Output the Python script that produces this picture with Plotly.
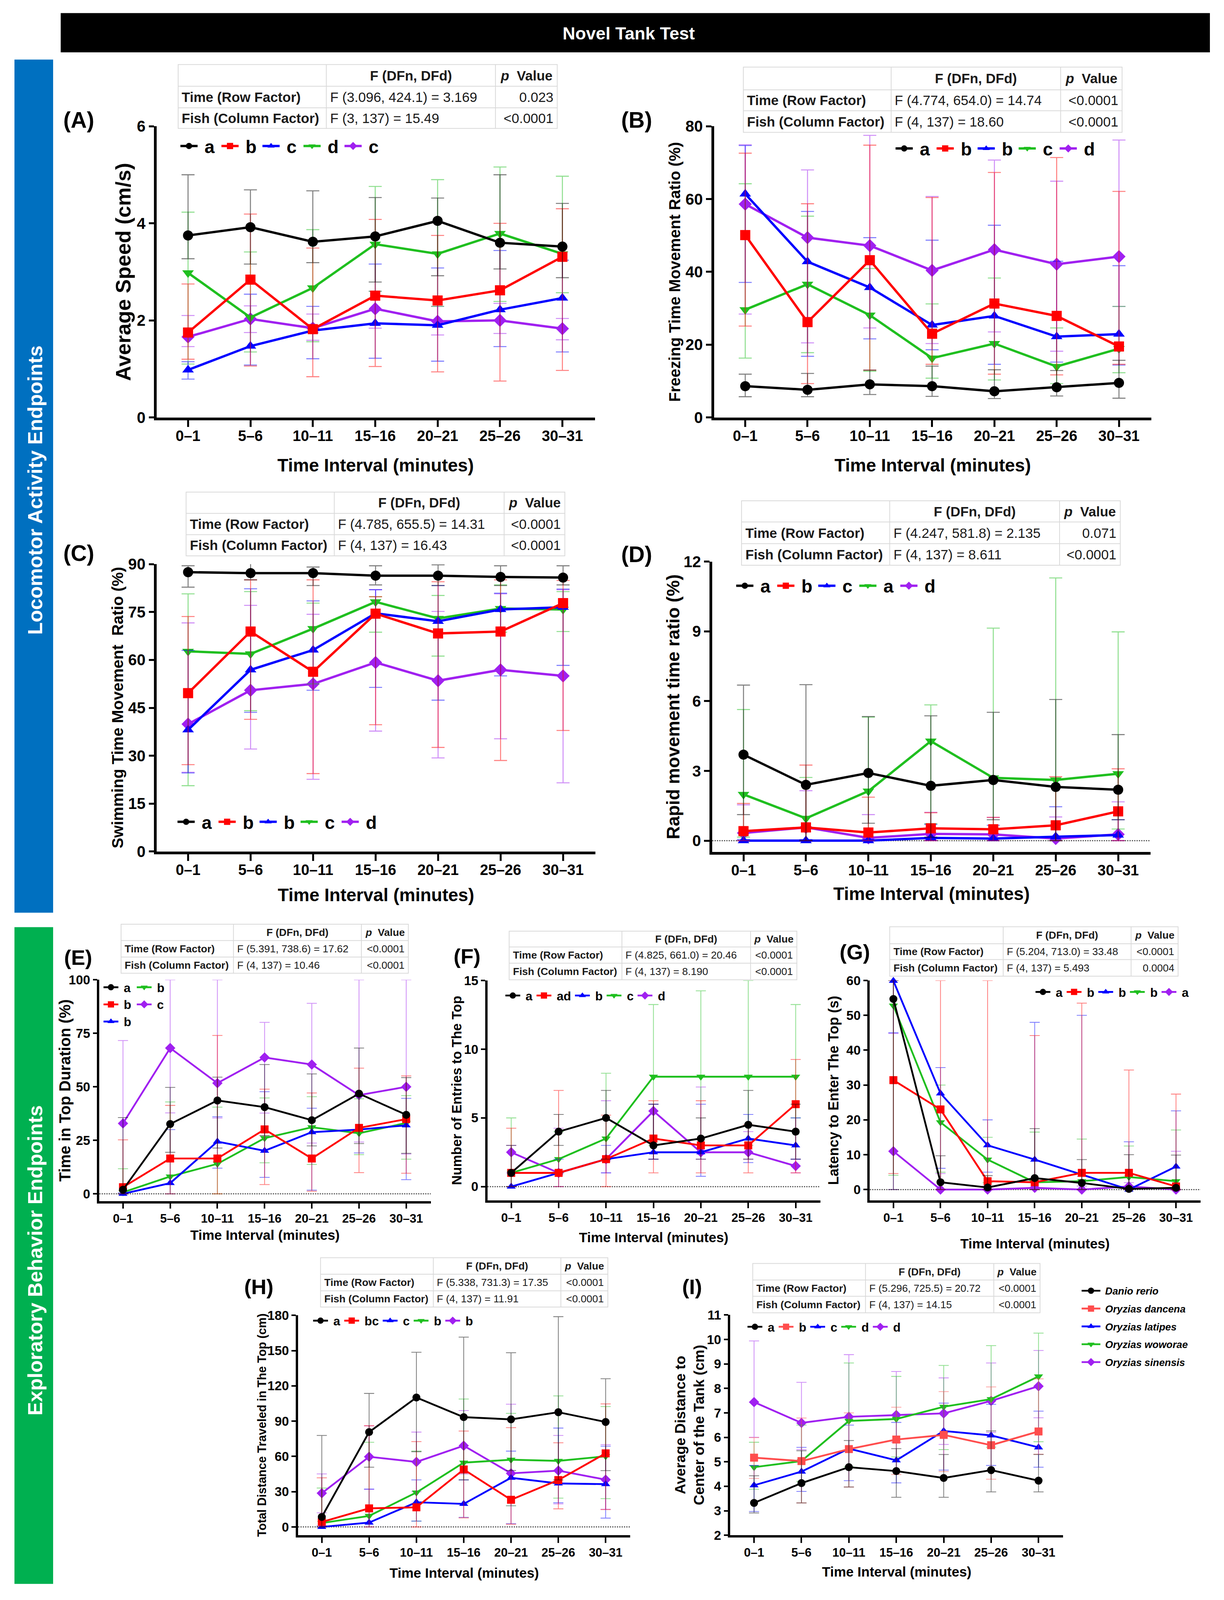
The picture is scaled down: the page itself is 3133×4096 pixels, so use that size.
import plotly.graph_objects as go

# ------------------------------------------------------------------ data
INTERVALS = ["0–1", "5–6", "10–11", "15–16", "20–21", "25–26", "30–31"]
SPECIES = ["Danio rerio", "Oryzias dancena", "Oryzias latipes", "Oryzias woworae", "Oryzias sinensis"]
# row order in every panel: Danio rerio, O. dancena, O. latipes, O. woworae, O. sinensis

# (A) Average Speed (cm/s)
A_MEAN = [[3.75, 3.92, 3.62, 3.73, 4.05, 3.60, 3.52],
          [1.75, 2.84, 1.82, 2.51, 2.41, 2.62, 3.31],
          [0.98, 1.47, 1.79, 1.94, 1.90, 2.22, 2.46],
          [2.98, 2.06, 2.67, 3.57, 3.37, 3.79, 3.37],
          [1.66, 2.03, 1.84, 2.24, 1.98, 2.00, 1.83]]
A_HI = [[5.00, 4.69, 4.67, 4.53, 4.52, 5.00, 4.41],
        [2.75, 4.19, 3.49, 4.08, 3.75, 4.00, 4.30],
        [1.15, 2.54, 2.29, 3.16, 3.08, 3.44, 3.24],
        [4.23, 3.41, 3.87, 4.76, 4.90, 5.16, 4.97],
        [2.10, 2.30, 2.13, 2.60, 2.29, 2.35, 2.04]]
A_LO = [[3.27, 3.16, 3.19, 2.79, 2.92, 3.06, 2.88],
        [1.20, 1.06, 0.84, 1.05, 0.94, 0.75, 0.97],
        [0.79, 1.08, 1.21, 1.22, 1.16, 1.46, 1.35],
        [1.10, 1.35, 1.56, 2.60, 2.29, 2.39, 2.57],
        [1.46, 1.75, 1.59, 1.84, 1.70, 1.73, 1.60]]
A_LETTERS = ["a", "b", "c", "d", "c"]
A_STATS = ["F (3.096, 424.1) = 3.169", "0.023", "F (3, 137) = 15.49", "<0.0001"]

# (B) Freezing Time Movement Ratio (%)
B_MEAN = [[8.6, 7.6, 9.1, 8.6, 7.2, 8.3, 9.5],
          [50.1, 26.2, 43.2, 23.0, 31.3, 27.9, 19.5],
          [61.4, 42.8, 35.7, 25.4, 27.9, 22.2, 22.9],
          [29.6, 36.6, 28.1, 16.3, 20.3, 14.0, 18.9],
          [58.6, 49.4, 47.2, 40.4, 46.1, 42.1, 44.2]]
B_HI = [[11.9, 12.1, 13.0, 14.1, 13.1, 12.9, 15.7],
        [72.6, 58.7, 74.8, 60.4, 67.3, 71.4, 62.1],
        [74.7, 56.6, 49.4, 48.7, 52.8, 42.9, 41.7],
        [64.2, 55.3, 40.9, 31.2, 38.3, 24.6, 30.5],
        [74.9, 68.0, 77.5, 60.7, 70.7, 64.9, 76.2]]
B_LO = [[5.7, 5.7, 6.3, 5.8, 5.2, 5.9, 5.3],
        [25.1, 9.3, 13.0, 14.6, 11.9, 11.7, 14.6],
        [37.1, 16.8, 21.6, 18.6, 14.6, 15.2, 14.4],
        [16.3, 17.8, 12.7, 10.8, 10.3, 9.3, 12.3],
        [28.4, 20.5, 24.6, 20.3, 23.5, 18.2, 30.5]]
B_LETTERS = ["a", "b", "b", "c", "d"]
B_STATS = ["F (4.774, 654.0) = 14.74", "<0.0001", "F (4, 137) = 18.60", "<0.0001"]

# (C) Swimming Time Movement Ratio (%)
C_MEAN = [[87.5, 87.2, 87.2, 86.4, 86.4, 86.0, 85.8],
          [49.6, 68.9, 56.3, 74.5, 68.3, 68.9, 77.8],
          [38.1, 56.9, 63.1, 74.6, 72.1, 75.8, 76.5],
          [62.7, 61.9, 69.8, 78.2, 73.0, 76.1, 75.8],
          [39.9, 50.5, 52.5, 59.2, 53.5, 56.9, 55.0]]
C_HI = [[89.5, 90.2, 89.1, 89.5, 89.8, 89.5, 89.5],
        [73.6, 85.1, 85.1, 79.8, 84.5, 85.1, 84.9],
        [63.0, 82.3, 78.5, 82.0, 83.3, 80.9, 82.2],
        [80.7, 81.4, 77.8, 79.8, 80.2, 83.5, 81.4],
        [71.6, 77.1, 74.3, 82.0, 75.2, 80.7, 82.0]]
C_LO = [[82.8, 85.1, 83.3, 83.5, 83.3, 83.3, 83.5],
        [27.2, 41.4, 24.4, 39.7, 32.6, 28.5, 37.9],
        [24.6, 43.6, 50.5, 51.4, 47.4, 55.0, 58.3],
        [20.6, 44.1, 52.5, 68.7, 61.2, 68.7, 68.9],
        [24.8, 32.1, 22.6, 37.7, 29.3, 35.3, 21.5]]
C_LETTERS = ["a", "b", "b", "c", "d"]
C_STATS = ["F (4.785, 655.5) = 14.31", "<0.0001", "F (4, 137) = 16.43", "<0.0001"]

# (D) Rapid movement time ratio (%)
D_MEAN = [[3.70, 2.40, 2.91, 2.36, 2.61, 2.31, 2.19],
          [0.41, 0.57, 0.35, 0.53, 0.49, 0.66, 1.26],
          [0.00, 0.00, 0.00, 0.12, 0.09, 0.17, 0.24],
          [1.99, 0.96, 2.13, 4.28, 2.70, 2.61, 2.88],
          [0.33, 0.57, 0.12, 0.29, 0.27, 0.09, 0.27]]
D_HI = [[6.69, 6.71, 5.34, 5.37, 5.52, 6.07, 4.56],
        [1.60, 3.25, 1.87, 1.20, 1.00, 2.75, 3.09],
        [0.05, 0.05, 0.05, 0.70, 0.66, 1.46, 0.90],
        [5.64, 2.72, 5.31, 5.84, 9.14, 11.30, 8.98],
        [1.54, 2.15, 1.12, 1.22, 1.00, 1.02, 1.67]]
D_LO = [[1.12, 0.00, 0.75, 0.15, 0.90, 0.00, 0.90],
        [0.00, 0.00, 0.00, 0.00, 0.00, 0.00, 0.00],
        [0.00, 0.00, 0.00, 0.00, 0.00, 0.00, 0.00],
        [0.15, 0.00, 0.00, 0.73, 0.00, 0.00, 0.50],
        [0.00, 0.00, 0.00, 0.00, 0.00, 0.00, 0.00]]
D_LETTERS = ["a", "b", "c", "a", "d"]
D_STATS = ["F (4.247, 581.8) = 2.135", "0.071", "F (4, 137) = 8.611", "<0.0001"]

# (E) Time in Top Duration (%)
E_MEAN = [[1.9, 32.6, 43.6, 40.5, 34.4, 46.8, 36.9],
          [3.1, 16.5, 16.5, 30.1, 16.5, 30.8, 34.9],
          [0.0, 5.0, 24.4, 20.1, 28.8, 30.0, 32.0],
          [0.7, 8.1, 14.0, 26.0, 31.1, 28.3, 33.1],
          [32.9, 68.1, 51.7, 63.7, 60.4, 46.1, 50.0]]
E_HI = [[35.6, 49.7, 54.5, 60.4, 56.0, 68.1, 54.3],
        [25.2, 41.3, 74.0, 48.9, 47.1, 58.7, 55.1],
        [0.5, 30.0, 36.0, 47.7, 40.0, 45.6, 44.6],
        [11.7, 42.9, 40.5, 44.8, 45.4, 44.4, 45.9],
        [71.6, 100.0, 100.0, 80.1, 89.0, 100.0, 100.0]]
E_LO = [[0.0, 19.4, 21.4, 27.2, 22.4, 23.5, 18.9],
        [0.0, 0.0, 0.0, 4.3, 1.2, 9.9, 9.6],
        [0.0, 0.0, 12.0, 7.7, 1.7, 19.1, 6.6],
        [0.0, 0.0, 0.0, 14.5, 13.7, 18.3, 16.2],
        [0.0, 37.8, 35.4, 37.7, 23.7, 24.2, 18.6]]
E_LETTERS = ["a", "b", "b", "b", "c"]
E_STATS = ["F (5.391, 738.6) = 17.62", "<0.0001", "F (4, 137) = 10.46", "<0.0001"]

# (F) Number of Entries to The Top
F_MEAN = [[1.0, 4.0, 5.0, 3.0, 3.5, 4.5, 4.0],
          [1.0, 1.0, 2.0, 3.5, 3.0, 3.0, 6.0],
          [0.0, 1.0, 2.0, 2.5, 2.5, 3.5, 3.0],
          [1.0, 2.0, 3.5, 8.0, 8.0, 8.0, 8.0],
          [2.5, 1.0, 2.0, 5.5, 2.5, 2.5, 1.5]]
F_HI = [[3.0, 5.25, 7.0, 6.0, 5.0, 7.0, 6.0],
        [4.25, 7.0, 5.2, 6.25, 6.25, 4.5, 9.25],
        [0.0, 2.0, 3.0, 6.0, 6.0, 5.25, 5.0],
        [5.0, 4.0, 8.25, 13.25, 14.25, 15.0, 13.25],
        [3.0, 4.25, 6.25, 6.0, 7.25, 4.0, 2.0]]
F_LO = [[0.0, 3.0, 2.0, 2.0, 2.0, 2.0, 2.0],
        [0.0, 0.0, 0.0, 1.0, 1.0, 1.0, 1.0],
        [0.0, 0.0, 1.0, 2.0, 0.75, 1.75, 2.0],
        [0.0, 1.0, 2.0, 3.0, 3.0, 3.0, 5.0],
        [1.0, 1.0, 1.0, 2.0, 2.0, 2.0, 1.0]]
F_LETTERS = ["a", "ad", "b", "c", "d"]
F_STATS = ["F (4.825, 661.0) = 20.46", "<0.0001", "F (4, 137) = 8.190", "<0.0001"]

# (G) Latency to Enter The Top (s)
G_MEAN = [[54.7, 2.1, 0.6, 3.3, 1.9, 0.2, 0.5],
          [31.4, 23.0, 2.4, 2.1, 4.8, 4.8, 0.9],
          [59.9, 27.6, 12.7, 8.6, 4.3, 0.0, 6.6],
          [52.8, 19.3, 8.6, 2.1, 2.4, 3.6, 2.4],
          [11.0, 0.0, 0.0, 0.5, 0.0, 0.9, 0.0]]
G_HI = [[60.0, 9.7, 4.0, 17.5, 8.6, 10.0, 9.9],
        [60.0, 60.0, 60.0, 44.2, 53.5, 34.3, 27.4],
        [60.0, 35.0, 20.0, 48.0, 50.0, 13.7, 22.6],
        [60.0, 30.0, 15.0, 16.5, 14.5, 12.5, 17.1],
        [44.8, 4.6, 1.0, 2.0, 1.0, 2.0, 11.0]]
G_LO = [[0.0, 0.0, 0.0, 0.0, 0.0, 0.0, 0.0],
        [4.6, 0.0, 0.0, 0.0, 0.0, 0.0, 0.0],
        [45.0, 6.1, 5.0, 0.0, 0.0, 0.0, 0.0],
        [4.1, 5.0, 2.0, 0.0, 0.0, 0.0, 0.0],
        [0.0, 0.0, 0.0, 0.0, 0.0, 0.0, 0.0]]
G_LETTERS = ["a", "b", "b", "b", "a"]
G_STATS = ["F (5.204, 713.0) = 33.48", "<0.0001", "F (4, 137) = 5.493", "0.0004"]

# (H) Total Distance Traveled in The Top (cm)
H_MEAN = [[8.5, 80.7, 110.1, 93.4, 91.5, 97.6, 89.3],
          [4.2, 15.8, 16.7, 48.9, 23.1, 39.9, 62.6],
          [0.0, 3.7, 21.0, 19.6, 41.8, 37.0, 36.4],
          [3.3, 9.4, 29.3, 54.7, 57.2, 56.2, 60.1],
          [28.7, 59.7, 55.3, 69.1, 45.6, 47.9, 40.2]]
H_HI = [[77.8, 113.6, 148.6, 161.5, 148.2, 178.9, 126.1],
        [41.8, 86.1, 72.6, 81.6, 84.5, 71.6, 104.7],
        [1.0, 32.2, 40.0, 40.0, 64.5, 84.1, 68.7],
        [33.1, 72.0, 64.5, 108.8, 96.6, 111.5, 102.4],
        [45.1, 86.0, 80.7, 99.0, 104.4, 77.8, 70.0]]
H_LO = [[0.0, 50.8, 64.0, 40.0, 48.0, 40.0, 47.9],
        [0.0, 0.0, 0.0, 7.7, 2.3, 15.4, 14.8],
        [0.0, 0.0, 5.0, 8.1, 2.7, 20.6, 7.5],
        [0.0, 0.0, 5.0, 20.0, 18.0, 24.5, 24.1],
        [12.0, 32.0, 30.0, 45.0, 18.0, 19.6, 15.0]]
H_LETTERS = ["a", "bc", "c", "b", "b"]
H_STATS = ["F (5.338, 731.3) = 17.35", "<0.0001", "F (4, 137) = 11.91", "<0.0001"]

# (I) Average Distance to Center of the Tank (cm)
I_MEAN = [[3.32, 4.13, 4.78, 4.62, 4.34, 4.66, 4.23],
          [5.17, 5.03, 5.52, 5.91, 6.10, 5.68, 6.24],
          [4.04, 4.60, 5.54, 5.06, 6.26, 6.08, 5.59],
          [4.78, 5.03, 6.67, 6.75, 7.25, 7.56, 8.49],
          [7.44, 6.59, 6.84, 6.91, 6.98, 7.49, 8.09]]
I_HI = [[4.43, 5.45, 5.87, 5.54, 5.30, 6.26, 5.30],
        [5.99, 6.79, 7.00, 7.23, 7.87, 8.06, 8.39],
        [4.85, 5.59, 6.50, 6.61, 7.40, 7.35, 7.07],
        [5.80, 6.50, 9.04, 8.49, 8.94, 9.75, 10.26],
        [9.94, 8.25, 9.38, 8.69, 8.43, 9.04, 9.55]]
I_LO = [[2.91, 3.32, 3.97, 3.55, 3.55, 3.77, 3.77],
        [4.32, 3.32, 3.97, 4.48, 4.60, 4.29, 5.31],
        [2.97, 3.79, 4.23, 4.14, 4.66, 4.85, 4.78],
        [3.88, 4.20, 4.80, 5.20, 5.50, 5.60, 5.82],
        [6.00, 5.50, 5.50, 5.80, 5.71, 6.20, 6.80]]
I_LETTERS = ["a", "b", "c", "d", "d"]
I_STATS = ["F (5.296, 725.5) = 20.72", "<0.0001", "F (4, 137) = 14.15", "<0.0001"]

TABLE_HEAD = ["F (DFn, DFd)", "<i>p</i>  Value"]
TABLE_ROWS = ["Time (Row Factor)", "Fish (Column Factor)"]

# ------------------------------------------------------------------ style
COLORS = ["#000000", "#ff0000", "#0000ff", "#1fbf1f", "#a020f0"]
COLORS_I = ["#000000", "#ff4d4d", "#0000ff", "#1fbf1f", "#a020f0"]
SYMBOLS = ["circle", "square", "triangle-up", "triangle-down", "diamond"]

S = 0.925                        # drawing scale relative to the reference
W, H = 3133, 4096
OFFX = 8                         # page offsets of the html page
OFFY = 26.4
PAGE_H = OFFY + H + 8.0

FONT = "Liberation Sans, Arial, sans-serif"
SP = "\u00a0"                    # gap between legend symbol and letter


def X(xr):
    """reference x (px) -> paper fraction"""
    return (xr * S - OFFX) / W


def fig_y(screen_y):
    return screen_y * PAGE_H / H - OFFY


def Y(yr):
    """reference y (px from top) -> paper fraction"""
    return 1 - fig_y(yr * S) / H


def p(v):
    return v * S


def rgba(hexc, a):
    h = hexc.lstrip("#")
    return "rgba(%d,%d,%d,%.2f)" % (int(h[0:2], 16), int(h[2:4], 16), int(h[4:6], 16), a)


PANELS = [
    dict(key="A", mean=A_MEAN, hi=A_HI, lo=A_LO, letters=A_LETTERS, stats=A_STATS,
         x=(434, 1646), y=(346, 1154), yr=[0, 6], tv=[0, 2, 4, 6],
         ytitle="Average Speed (cm/s)", ytfs=58, ytx=341, xty=1286, lab=(173, 329),
         tab=(493, 175, 903, 1371, 1542, 235, 295, 352), leg=(523, 399), big=True, zero=False),
    dict(key="B", mean=B_MEAN, hi=B_HI, lo=B_LO, letters=B_LETTERS, stats=B_STATS,
         x=(1976, 3186), y=(346, 1154), yr=[0, 80], tv=[0, 20, 40, 60, 80],
         ytitle="Freezing Time Movement Ratio (%)", ytfs=43.5, ytx=1868, xty=1286, lab=(1717, 329),
         tab=(2057, 182, 2466, 2935, 3105, 245, 303, 363), leg=(2502, 406), big=True, zero=False),
    dict(key="C", mean=C_MEAN, hi=C_HI, lo=C_LO, letters=C_LETTERS, stats=C_STATS,
         x=(434, 1648), y=(1561, 2358), yr=[0, 90], tv=[0, 15, 30, 45, 60, 75, 90],
         ytitle="Swimming Time Movement\u00a0 Ratio (%)", ytfs=44, ytx=325, xty=2479, lab=(173, 1530),
         tab=(515, 1361, 925, 1395, 1563, 1420, 1479, 1538), leg=(515, 2274), big=True, zero=False),
    dict(key="D", mean=D_MEAN, hi=D_HI, lo=D_LO, letters=D_LETTERS, stats=D_STATS,
         x=(1971, 3184), y=(1554, 2359), yr=[-0.48, 12], tv=[0, 3, 6, 9, 12],
         ytitle="Rapid movement time ratio (%)", ytfs=50, ytx=1863, xty=2475, lab=(1717, 1534),
         tab=(2052, 1385, 2462, 2932, 3100, 1444, 1504, 1564), leg=(2061, 1619), big=True, zero=True),
    dict(key="E", mean=E_MEAN, hi=E_HI, lo=E_LO, letters=E_LETTERS, stats=E_STATS,
         x=(275, 1192), y=(2714, 3328), yr=[-3.4, 100], tv=[0, 25, 50, 75, 100],
         ytitle="Time in Top Duration (%)", ytfs=43, ytx=179, xty=3422, lab=(175, 2652),
         tab=(335, 2560, 646, 1000, 1130, 2605, 2651, 2696), leg=(307, 2733), big=False, zero=True),
    dict(key="F", mean=F_MEAN, hi=F_HI, lo=F_LO, letters=F_LETTERS, stats=F_STATS,
         x=(1349, 2270), y=(2716, 3326), yr=[-1.0, 15], tv=[0, 5, 10, 15],
         ytitle="Number of Entries to The Top", ytfs=37.5, ytx=1263, xty=3428, lab=(1253, 2649),
         tab=(1409, 2579, 1721, 2077, 2205, 2623, 2668, 2714), leg=(1419, 2756), big=False, zero=True),
    dict(key="G", mean=G_MEAN, hi=G_HI, lo=G_LO, letters=G_LETTERS, stats=G_STATS,
         x=(2407, 3322), y=(2716, 3326), yr=[-3.1, 60], tv=[0, 10, 20, 30, 40, 50, 60],
         ytitle="Latency to Enter The Top (s)", ytfs=39, ytx=2307, xty=3446, lab=(2321, 2637),
         tab=(2462, 2567, 2776, 3130, 3260, 2614, 2658, 2704), leg=(2886, 2746), big=False, zero=True),
    dict(key="H", mean=H_MEAN, hi=H_HI, lo=H_LO, letters=H_LETTERS, stats=H_STATS,
         x=(825, 1744), y=(3645, 4255), yr=[-7.05, 180], tv=[0, 30, 60, 90, 120, 150, 180],
         ytitle="Total Distance Traveled in The Top (cm)", ytfs=33, ytx=725, xty=4359, lab=(674, 3566),
         tab=(887, 3485, 1199, 1552, 1682, 3531, 3577, 3622), leg=(887, 3658), big=False, zero=True),
    dict(key="I", mean=I_MEAN, hi=I_HI, lo=I_LO, letters=I_LETTERS, stats=I_STATS,
         x=(2021, 2942), y=(3644, 4255), yr=[2, 11], tv=[2, 3, 4, 5, 6, 7, 8, 9, 10, 11],
         ytitle="Average Distance to<br>Center of the Tank (cm)", ytfs=40, ytx=1908, xty=4356, lab=(1885, 3566),
         tab=(2083, 3501, 2395, 2750, 2878, 3547, 3592, 3638), leg=(2089, 3675), big=False, zero=False),
]

fig = go.Figure()
shapes = []
ann = []
layout = {}


def text(t, x, y, size, color="black", bold=True, xa="center", angle=0, italic=False):
    f = dict(family=FONT, size=size, color=color)
    if bold:
        f["weight"] = "bold"
    if italic:
        f["style"] = "italic"
    ann.append(dict(text=t, x=X(x), y=Y(y), xref="paper", yref="paper", showarrow=False,
                    xanchor=xa, yanchor="middle", textangle=angle, font=f))


def rect(x0, y0, x1, y1, fill, line=None):
    shapes.append(dict(type="rect", xref="paper", yref="paper", x0=X(x0), x1=X(x1), y0=Y(y1), y1=Y(y0),
                       fillcolor=fill, line=line or dict(width=0), layer="below"))


# -------- header bar and side bars
rect(168, 32, 3348, 141, "black")
text("Novel Tank Test", 1740, 88, 45, color="white")
rect(40, 161, 147, 2528, "#0070c0")
rect(40, 2568, 147, 4390, "#00b050")
text("Locomotor Activity Endpoints", 97, 1355, 52, color="white", angle=-90)
text("Exploratory Behavior Endpoints", 97, 3492, 52, color="white", angle=-90)


def add_table(tab, stats, fs):
    L, T, c1, c2, R, r1, r2, B = tab
    lc = "#d9d9d9"
    rect(L, T, R, B, "white", dict(color=lc, width=2))
    for cx in (c1, c2):
        shapes.append(dict(type="line", xref="paper", yref="paper", x0=X(cx), x1=X(cx), y0=Y(B), y1=Y(T),
                           line=dict(color=lc, width=2)))
    for ry in (r1, r2):
        shapes.append(dict(type="line", xref="paper", yref="paper", x0=X(L), x1=X(R), y0=Y(ry), y1=Y(ry),
                           line=dict(color=lc, width=2)))
    pad = 8
    rows_y = [(r1 + r2) / 2, (r2 + B) / 2]
    text(TABLE_HEAD[0], (c1 + c2) / 2, (T + r1) / 2, fs, "#1a1a1a")
    text(TABLE_HEAD[1], (c2 + R) / 2, (T + r1) / 2, fs, "#1a1a1a")
    for i in range(2):
        text(TABLE_ROWS[i], L + pad, rows_y[i], fs, "#1a1a1a", xa="left")
        text(stats[2 * i], c1 + pad, rows_y[i], fs, "#1a1a1a", bold=False, xa="left")
        text(stats[2 * i + 1], R - pad, rows_y[i], fs, "#1a1a1a", bold=False, xa="right")


BIGLEG, SMALLLEG, MAINLEG = p(50), p(34), p(28)
IW_BIG, IW_SMALL, IW_MAIN = 44, 38, 48


def leg_x(xm, iw):
    return (xm * S - (iw / 2 + 5) - OFFX) / W


def leg_top(row_y_ref, fs):
    # legend anchored at its top; first row centre sits ~0.65*font + 5 px below
    return 1 - fig_y(row_y_ref * S - 0.65 * fs - 5) / H


def hleg(xm, ym, fs, iw, entry=None):
    d = dict(x=leg_x(xm, iw), y=leg_top(ym, fs), xanchor="left", yanchor="top",
             orientation="h", bgcolor="rgba(0,0,0,0)", borderwidth=0, traceorder="reversed",
             font=dict(family=FONT, size=fs, color="black", weight="bold"), itemwidth=iw)
    if entry:
        d["entrywidth"] = entry
        d["entrywidthmode"] = "pixels"
    return d


for pi, P in enumerate(PANELS):
    sfx = "" if pi == 0 else str(pi + 1)
    big = P["big"]
    ms = p(28) if big else p(22)
    lw = p(6.5) if big else p(5)
    alw = p(7.5) if big else p(6)
    tfs = 38 if big else 31
    ytk = 40 if big else 33
    ew = p(18) if big else p(14)
    et = p(2.8) if big else p(2.2)
    cols = COLORS_I if P["key"] == "I" else COLORS
    if P["key"] == "E":
        legs = ["legend5", "legend5", "legend5", "legend6", "legend6"]
    else:
        lname = {"A": "legend", "B": "legend2", "C": "legend3", "D": "legend4", "F": "legend7",
                 "G": "legend8", "H": "legend9", "I": "legend10"}[P["key"]]
        legs = [lname] * 5
    for k in [4, 3, 2, 1, 0]:
        m, hi, lo = P["mean"][k], P["hi"][k], P["lo"][k]
        up = [max(h - v, 0) for h, v in zip(hi, m)]
        dn = [max(v - l, 0) for l, v in zip(lo, m)]
        fig.add_trace(go.Scatter(
            x=INTERVALS, y=m, mode="lines+markers", name=SP + P["letters"][k],
            line=dict(color=cols[k], width=lw),
            marker=dict(symbol=SYMBOLS[k], size=ms, color=cols[k], line=dict(width=0)),
            error_y=dict(type="data", symmetric=False, array=up, arrayminus=dn,
                         color=rgba(cols[k], 0.5), thickness=et, width=ew),
            xaxis="x" + sfx, yaxis="y" + sfx, legend=legs[k], cliponaxis=False, hoverinfo="skip"))

    x0, x1 = P["x"]
    yt, yb = P["y"]
    layout["xaxis" + sfx] = dict(
        domain=[X(x0), X(x1)], anchor="y" + sfx, type="category", categoryorder="array",
        categoryarray=INTERVALS, range=[-0.5, 6.52], showline=True, linecolor="black", linewidth=alw,
        ticks="outside", ticklen=p(19 if big else 15), tickwidth=p(5 if big else 4), tickcolor="black",
        ticklabelstandoff=-10 if big else -2,
        tickfont=dict(family=FONT, size=tfs, color="black", weight="bold"),
        showgrid=False, zeroline=False, fixedrange=True)
    layout["yaxis" + sfx] = dict(
        domain=[Y(yb), Y(yt)], anchor="x" + sfx, range=P["yr"], tickvals=P["tv"],
        showline=True, linecolor="black", linewidth=alw,
        ticks="outside", ticklen=p(15 if big else 12), tickwidth=p(5 if big else 4), tickcolor="black",
        tickfont=dict(family=FONT, size=ytk, color="black", weight="bold"),
        showgrid=False, zeroline=False, fixedrange=True)
    if P["zero"]:
        shapes.append(dict(type="line", xref="x" + sfx + " domain", yref="y" + sfx, x0=0, x1=1, y0=0, y1=0,
                           line=dict(color="#444444", width=p(3), dash="dot"), layer="below"))
    text(P["ytitle"], P["ytx"], (yt + yb) / 2, p(P["ytfs"]), angle=-90)
    text("Time Interval (minutes)", (x0 + x1) / 2, P["xty"], 46 if big else 35)
    text("(%s)" % P["key"], P["lab"][0], P["lab"][1], 57 if big else 54, xa="left")
    add_table(P["tab"], P["stats"], 35 if big else 26.5)

    if P["key"] in "ABCD":
        layout[legs[0]] = hleg(P["leg"][0], P["leg"][1], BIGLEG, IW_BIG, 46)
    elif P["key"] != "E":
        layout[legs[0]] = hleg(P["leg"][0], P["leg"][1], SMALLLEG, IW_SMALL)

# E: two vertical legend columns
for name, xm in (("legend5", 307), ("legend6", 399)):
    layout[name] = dict(x=leg_x(xm, IW_SMALL), y=leg_top(2733, SMALLLEG),
                        xanchor="left", yanchor="top", orientation="v", bgcolor="rgba(0,0,0,0)",
                        traceorder="reversed", itemwidth=IW_SMALL,
                        font=dict(family=FONT, size=SMALLLEG, color="black", weight="bold"))

# -------- species legend (legend-only entries)
for k in range(5):
    fig.add_trace(go.Scatter(x=[None], y=[None], mode="lines+markers", name=SP + SPECIES[k],
                             line=dict(color=COLORS_I[k], width=p(5)),
                             marker=dict(symbol=SYMBOLS[k], size=p(22), color=COLORS_I[k]),
                             xaxis="x9", yaxis="y9", legend="legend11", legendgroup="sp%d" % k,
                             hoverinfo="skip"))
layout["legend11"] = dict(x=leg_x(3019, IW_MAIN), y=leg_top(3575, MAINLEG),
                          xanchor="left", yanchor="top", orientation="v", bgcolor="rgba(0,0,0,0)",
                          itemwidth=IW_MAIN, tracegroupgap=9,
                          font=dict(family=FONT, size=MAINLEG, color="black", weight="bold", style="italic"))

fig.update_layout(
    width=W, height=H, autosize=False, margin=dict(l=0, r=0, t=0, b=0, pad=0),
    paper_bgcolor="white", plot_bgcolor="white", shapes=shapes, annotations=ann, **layout)

fig.write_html("out.html")
